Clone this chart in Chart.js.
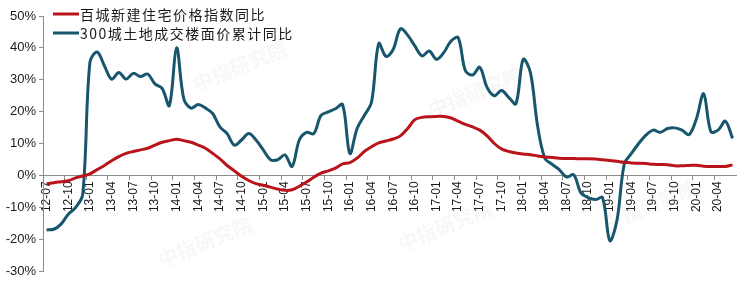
<!DOCTYPE html>
<html>
<head>
<meta charset="utf-8">
<script src="https://cdn.jsdelivr.net/npm/chart.js@4.4.1/dist/chart.umd.min.js"></script>
<style>
    html, body { margin: 0; padding: 0; background: #fff; }
    #wrap { width: 749px; height: 290px; }
</style>
</head>
<body>
<div id="wrap"><canvas id="chart" width="749" height="290"></canvas></div>
<script>
// monthly categories, 2012-07 .. 2020-06
const months = [
    '12-07', '12-08', '12-09', '12-10', '12-11', '12-12',
    '13-01', '13-02', '13-03', '13-04', '13-05', '13-06', '13-07', '13-08', '13-09', '13-10', '13-11', '13-12',
    '14-01', '14-02', '14-03', '14-04', '14-05', '14-06', '14-07', '14-08', '14-09', '14-10', '14-11', '14-12',
    '15-01', '15-02', '15-03', '15-04', '15-05', '15-06', '15-07', '15-08', '15-09', '15-10', '15-11', '15-12',
    '16-01', '16-02', '16-03', '16-04', '16-05', '16-06', '16-07', '16-08', '16-09', '16-10', '16-11', '16-12',
    '17-01', '17-02', '17-03', '17-04', '17-05', '17-06', '17-07', '17-08', '17-09', '17-10', '17-11', '17-12',
    '18-01', '18-02', '18-03', '18-04', '18-05', '18-06', '18-07', '18-08', '18-09', '18-10', '18-11', '18-12',
    '19-01', '19-02', '19-03', '19-04', '19-05', '19-06', '19-07', '19-08', '19-09', '19-10', '19-11', '19-12',
    '20-01', '20-02', '20-03', '20-04', '20-05', '20-06'
];

const seriesNames = ['百城新建住宅价格指数同比', '300城土地成交楼面价累计同比'];

// 百城新建住宅价格指数同比 (%)
const priceIndexYoY = [
    -2.7, -2.3, -2.0, -1.7, -0.8, -0.2,
    0.5, 1.8, 3.1, 4.6, 5.9, 6.9, 7.5, 8.0, 8.5, 9.5, 10.4, 10.9,
    11.3, 10.9, 10.4, 9.5, 8.5, 6.9, 5.2, 3.1, 1.4, -0.3, -1.6, -2.6,
    -3.1, -3.7, -4.3, -4.7, -4.5, -3.4, -2.1, -0.6, 0.7, 1.4, 2.3, 3.6,
    4.0, 5.4, 7.5, 9.0, 10.2, 10.8, 11.4, 12.4, 14.7, 17.5, 18.2, 18.4,
    18.5, 18.5, 18.0, 17.0, 16.0, 15.2, 14.2, 12.4, 10.0, 8.3, 7.5, 7.0,
    6.7, 6.5, 6.1, 5.8, 5.6, 5.4, 5.3, 5.3, 5.2, 5.2, 5.1, 4.9,
    4.7, 4.4, 4.1, 3.9, 3.8, 3.7, 3.5, 3.4, 3.3, 3.0, 3.0, 3.1,
    3.2, 2.9, 2.8, 2.8, 2.8, 3.3
];

// 300城土地成交楼面价累计同比 (%)
const landPriceYoY = [
    -17.1, -16.9, -15.3, -12.2, -10.1, -6.0,
    35.5, 38.7, 34.4, 30.2, 32.3, 30.2, 32.0, 31.0, 31.8, 28.7, 27.3, 21.9,
    40.0, 24.0, 21.1, 22.2, 21.1, 19.4, 15.2, 13.1, 9.5, 11.1, 13.1, 11.1,
    8.0, 4.9, 4.9, 6.4, 2.8, 11.1, 13.5, 13.1, 18.8, 19.9, 20.9, 22.2,
    6.9, 14.7, 18.8, 23.0, 41.4, 37.3, 39.5, 46.0, 44.0, 40.6, 37.5, 39.0,
    36.4, 38.5, 42.1, 43.2, 32.8, 31.5, 33.9, 27.6, 25.0, 26.6, 24.5, 22.5,
    36.4, 32.3, 15.5, 5.4, 3.5, 1.8, -0.5, 0.2, -5.5, -7.0, -7.6, -7.0,
    -20.5, -14.0, 3.5, 6.9, 10.0, 12.6, 14.2, 13.5, 14.7, 14.9, 14.2, 12.8,
    17.8, 25.6, 13.7, 14.2, 17.0, 11.6
];

const yTicks = [-30, -20, -10, 0, 10, 20, 30, 40, 50];

const Colors = {
    red: '#B8141A',
    teal: '#17566D',
    axis: '#8C8C8C',
    text: '#1A1A1A'
};

// faint "中指研究院" watermarks behind the lines
const watermarkPlugin = {
    id: 'watermark',
    beforeDatasetsDraw(chart) {
        const ctx = chart.ctx;
        const spots = [[240, 66], [475, 92], [205, 242], [445, 226], [650, 205]];
        ctx.save();
        ctx.font = 'bold 20px "Noto Sans CJK SC"';
        ctx.fillStyle = 'rgba(170,170,170,0.09)';
        ctx.textAlign = 'center';
        ctx.textBaseline = 'middle';
        spots.forEach(([x, y]) => {
            ctx.save();
            ctx.translate(x, y);
            ctx.rotate(-22 * Math.PI / 180);
            ctx.fillText('中指研究院', 0, 0);
            ctx.restore();
        });
        ctx.restore();
    }
};

// legend drawn inside the plot, top-left
const insideLegend = {
    id: 'insideLegend',
    afterDraw(chart) {
        const ctx = chart.ctx;
        ctx.save();
        ctx.font = '14px "Noto Sans CJK SC"';
        ctx.letterSpacing = '1.5px';
        ctx.textBaseline = 'middle';
        chart.data.datasets.forEach((ds, i) => {
            const y = 14 + i * 19;
            ctx.strokeStyle = ds.borderColor;
            ctx.lineWidth = 3;
            ctx.beginPath();
            ctx.moveTo(53, y);
            ctx.lineTo(79, y);
            ctx.stroke();
            ctx.fillStyle = Colors.text;
            ctx.fillText(ds.label, 80, y + 1);
        });
        ctx.restore();
    }
};

new Chart(document.getElementById('chart').getContext('2d'), {
    type: 'line',
    data: {
        labels: months,
        datasets: [{
            label: seriesNames[0],
            data: priceIndexYoY,
            borderColor: Colors.red,
            borderWidth: 3,
            pointRadius: 0,
            tension: 0.35,
            fill: false
        }, {
            label: seriesNames[1],
            data: landPriceYoY,
            borderColor: Colors.teal,
            borderWidth: 3,
            pointRadius: 0,
            tension: 0.35,
            fill: false
        }]
    },
    options: {
        responsive: false,
        animation: false,
        devicePixelRatio: 1,
        layout: { padding: { left: 0, right: 10, top: 16, bottom: 19 } },
        plugins: {
            legend: { display: false },
            tooltip: { enabled: false }
        },
        scales: {
            x: {
                type: 'category',
                position: { y: 0 },
                offset: true,
                grid: {
                    offset: true,
                    drawOnChartArea: false,
                    drawTicks: true,
                    tickLength: 4,
                    color: (c) => (c.index % 3 === 0 ? Colors.axis : 'rgba(0,0,0,0)')
                },
                border: { display: true, color: Colors.axis, width: 1 },
                ticks: {
                    autoSkip: false,
                    maxRotation: 90,
                    minRotation: 90,
                    padding: 2,
                    color: Colors.text,
                    font: { family: '"Liberation Sans", Arial', size: 12 },
                    callback: (v, i) => (i % 3 === 0 ? months[i] : '')
                }
            },
            y: {
                min: -30,
                max: 50,
                afterFit: (s) => { s.width = 43; },
                afterBuildTicks: (s) => { s.ticks = yTicks.map(v => ({ value: v })); },
                grid: {
                    drawOnChartArea: false,
                    drawTicks: true,
                    tickLength: 4,
                    color: Colors.axis
                },
                border: { display: true, color: Colors.axis, width: 1 },
                ticks: {
                    padding: 3,
                    color: Colors.text,
                    font: { family: '"Liberation Sans", Arial', size: 13 },
                    callback: (v) => v + '%'
                }
            }
        }
    },
    plugins: [watermarkPlugin, insideLegend]
});
</script>
</body>
</html>
